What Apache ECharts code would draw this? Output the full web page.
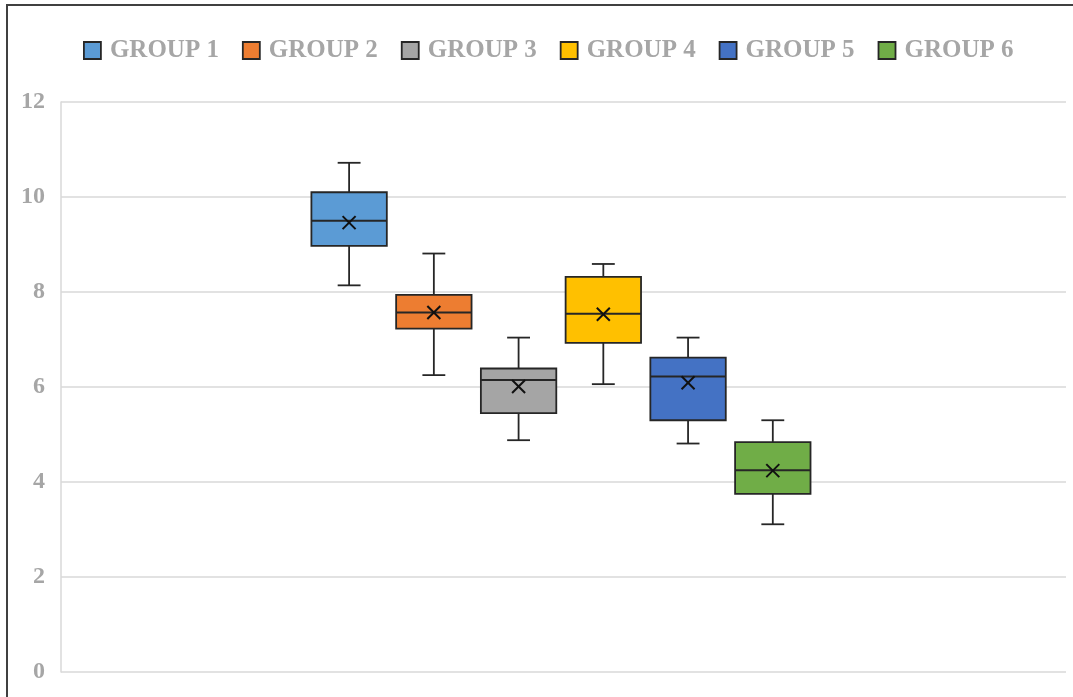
<!DOCTYPE html>
<html>
<head>
<meta charset="utf-8">
<script src="https://cdn.jsdelivr.net/npm/echarts@6/dist/echarts.min.js"></script>
<style>
html,body{margin:0;padding:0;background:#fff;}
#chart{width:1073px;height:697px;}
</style>
</head>
<body>
<div id="chart"></div>
<script>
// ---- data ----
const groups = ['GROUP 1', 'GROUP 2', 'GROUP 3', 'GROUP 4', 'GROUP 5', 'GROUP 6'];
// each: [min, q1, median, q3, max]
const boxStats = [
  [8.14, 8.97, 9.50, 10.10, 10.72],
  [6.25, 7.23, 7.57, 7.94, 8.81],
  [4.88, 5.45, 6.15, 6.39, 7.04],
  [6.06, 6.93, 7.54, 8.32, 8.59],
  [4.81, 5.30, 6.22, 6.62, 7.04],
  [3.11, 3.75, 4.25, 4.84, 5.30]
];
const means = [9.46, 7.57, 6.01, 7.53, 6.09, 4.24];
const yTicks = [0, 2, 4, 6, 8, 10, 12];
const colors = ['#5B9BD5', '#ED7D31', '#A5A5A5', '#FFC000', '#4472C4', '#70AD47'];

const chart = echarts.init(document.getElementById('chart'), null, {renderer: 'canvas'});
const stroke = '#262626';
const labelColor = '#A6A6A6';
const fontFamily = '"Liberation Serif", "Times New Roman", serif';

function renderBox(params, api) {
  const x = api.value(0);
  const unit = api.size([1, 0])[0];
  const bw = unit * 0.89;
  const cw = unit * 0.27;
  const pMin = api.coord([x, api.value(1)]);
  const pQ1 = api.coord([x, api.value(2)]);
  const pMed = api.coord([x, api.value(3)]);
  const pQ3 = api.coord([x, api.value(4)]);
  const pMax = api.coord([x, api.value(5)]);
  const pMean = api.coord([x, api.value(6)]);
  const cx = pMed[0];
  const ls = {stroke: stroke, lineWidth: 1.8};
  const m = 6.5;
  return {
    type: 'group',
    children: [
      {type: 'line', shape: {x1: cx, y1: pQ3[1], x2: cx, y2: pMax[1]}, style: ls},
      {type: 'line', shape: {x1: cx, y1: pQ1[1], x2: cx, y2: pMin[1]}, style: ls},
      {type: 'line', shape: {x1: cx - cw / 2, y1: pMax[1], x2: cx + cw / 2, y2: pMax[1]}, style: ls},
      {type: 'line', shape: {x1: cx - cw / 2, y1: pMin[1], x2: cx + cw / 2, y2: pMin[1]}, style: ls},
      {type: 'rect', shape: {x: cx - bw / 2, y: pQ3[1], width: bw, height: pQ1[1] - pQ3[1]},
        style: {fill: api.visual('color'), stroke: stroke, lineWidth: 1.8}},
      {type: 'line', shape: {x1: cx - bw / 2, y1: pMed[1], x2: cx + bw / 2, y2: pMed[1]}, style: {stroke: stroke, lineWidth: 2}},
      {type: 'line', shape: {x1: pMean[0] - m, y1: pMean[1] - m, x2: pMean[0] + m, y2: pMean[1] + m}, style: {stroke: '#111', lineWidth: 2}},
      {type: 'line', shape: {x1: pMean[0] - m, y1: pMean[1] + m, x2: pMean[0] + m, y2: pMean[1] - m}, style: {stroke: '#111', lineWidth: 2}}
    ]
  };
}

const series = groups.map(function (name, i) {
  return {
    name: name,
    type: 'custom',
    renderItem: renderBox,
    itemStyle: {color: colors[i]},
    encode: {x: 0, y: [1, 2, 3, 4, 5]},
    data: [[i].concat(boxStats[i]).concat([means[i]])]
  };
});

const option = {
  animation: false,
  backgroundColor: '#fff',
  legend: {
    data: groups,
    left: 83,
    top: 38,
    padding: 0,
    icon: 'rect',
    itemWidth: 17,
    itemHeight: 17,
    itemGap: 23,
    itemStyle: {borderColor: stroke, borderWidth: 1.8},
    textStyle: {color: labelColor, fontSize: 25, fontWeight: 'bold', fontFamily: fontFamily, padding: [0, 0, 0, 4]}
  },
  grid: {left: 61, right: 7, top: 102, bottom: 25, containLabel: false},
  xAxis: {
    type: 'value',
    min: -3.4,
    max: 8.46,
    show: false
  },
  yAxis: {
    type: 'value',
    min: yTicks[0],
    max: yTicks[yTicks.length - 1],
    interval: yTicks[1] - yTicks[0],
    axisLine: {show: true, onZero: false, lineStyle: {color: '#D9D9D9', width: 1.5}},
    axisTick: {show: false},
    splitLine: {show: true, lineStyle: {color: '#D9D9D9', width: 1.5}},
    axisLabel: {color: labelColor, fontSize: 24, fontWeight: 'bold', fontFamily: fontFamily, margin: 16}
  },
  graphic: [
    {type: 'line', shape: {x1: 6, y1: 5, x2: 1073, y2: 5}, style: {stroke: '#404040', lineWidth: 2}},
    {type: 'line', shape: {x1: 7, y1: 4, x2: 7, y2: 697}, style: {stroke: '#404040', lineWidth: 2}}
  ],
  series: series
};
chart.setOption(option);
</script>
</body>
</html>
